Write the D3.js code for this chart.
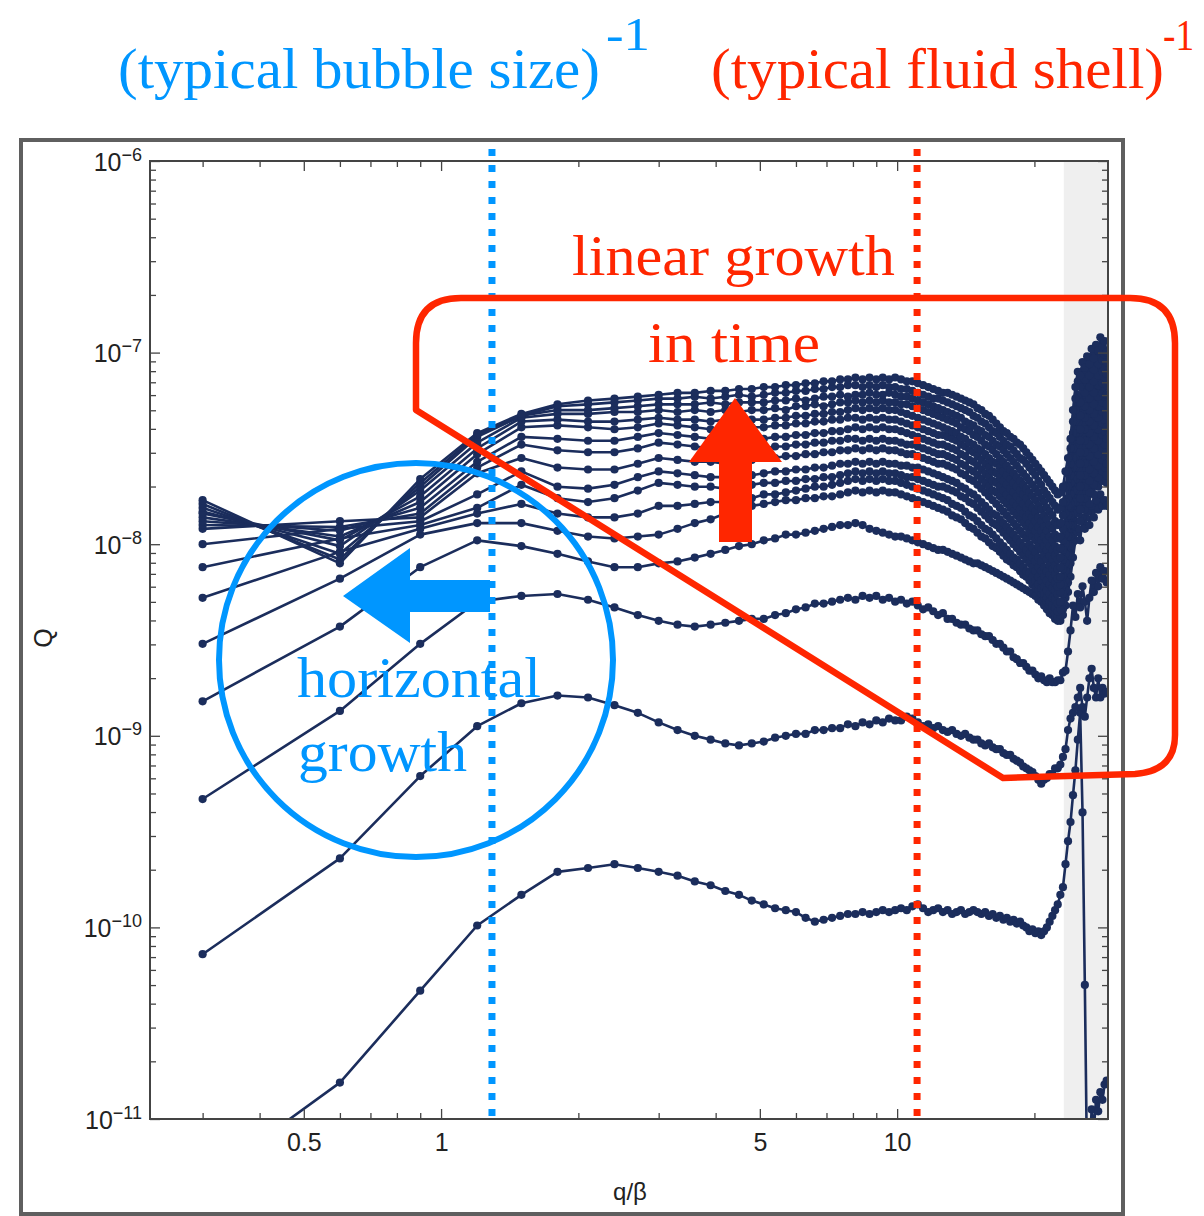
<!DOCTYPE html>
<html>
<head>
<meta charset="utf-8">
<script src="https://cdn.jsdelivr.net/npm/d3@7"></script>
<style>
body { margin: 0; background: #fff; }
</style>
</head>
<body>
<script>
// q/beta grid of the spectrum (step 0.3)
const q = d3.range(1, 97).map(i => +(0.3 * i).toFixed(1));

// log10(Q) per snapshot, earliest (lowest) first
const t01 = [-11.33,-10.81,-10.33,-9.99,-9.83,-9.71,-9.69,-9.67,-9.69,-9.71,-9.73,-9.76,
  -9.78,-9.81,-9.83,-9.86,-9.88,-9.90,-9.91,-9.92,-9.95,-9.97,-9.96,-9.95,
  -9.94,-9.93,-9.93,-9.92,-9.93,-9.92,-9.91,-9.92,-9.91,-9.90,-9.91,-9.89,
  -9.88,-9.90,-9.92,-9.91,-9.90,-9.92,-9.91,-9.93,-9.92,-9.91,-9.93,-9.92,
  -9.91,-9.92,-9.93,-9.92,-9.94,-9.93,-9.95,-9.94,-9.96,-9.95,-9.97,-9.96,
  -9.98,-9.97,-9.99,-10.00,-10.02,-10.01,-10.03,-10.02,-10.04,-10.02,-10.00,-9.97,
  -9.94,-9.91,-9.88,-9.83,-9.79,-9.67,-9.55,-9.45,-9.31,-9.18,-9.02,-8.88,
  -9.40,-10.30,-11.30,-11.20,-10.95,-11.05,-10.90,-10.96,-10.86,-10.90,-10.82,-10.80];
const t02 = [-10.14,-9.64,-9.21,-8.95,-8.83,-8.79,-8.80,-8.84,-8.88,-8.93,-8.97,-9.00,
  -9.02,-9.04,-9.05,-9.04,-9.03,-9.01,-9.00,-8.99,-8.99,-8.97,-8.97,-8.96,
  -8.96,-8.94,-8.95,-8.93,-8.94,-8.92,-8.93,-8.91,-8.92,-8.92,-8.90,-8.91,
  -8.93,-8.95,-8.94,-8.96,-8.95,-8.97,-8.98,-8.97,-8.99,-9.00,-8.99,-9.01,
  -9.02,-9.02,-9.04,-9.05,-9.04,-9.06,-9.07,-9.07,-9.09,-9.10,-9.10,-9.12,
  -9.13,-9.14,-9.16,-9.17,-9.18,-9.19,-9.21,-9.23,-9.25,-9.23,-9.22,-9.20,
  -9.20,-9.17,-9.17,-9.15,-9.11,-9.07,-8.97,-8.91,-8.88,-8.85,-8.80,-8.75,
  -8.85,-8.90,-8.80,-8.70,-8.65,-8.75,-8.80,-8.70,-8.80,-8.75,-8.78,-8.77];
const t03 = [-9.33,-8.87,-8.52,-8.30,-8.27,-8.26,-8.29,-8.33,-8.37,-8.40,-8.42,-8.43,
  -8.42,-8.41,-8.40,-8.39,-8.39,-8.37,-8.36,-8.34,-8.33,-8.31,-8.31,-8.30,
  -8.29,-8.28,-8.29,-8.27,-8.28,-8.27,-8.29,-8.28,-8.30,-8.29,-8.31,-8.30,
  -8.32,-8.34,-8.33,-8.35,-8.37,-8.36,-8.39,-8.39,-8.41,-8.42,-8.42,-8.44,
  -8.45,-8.45,-8.47,-8.48,-8.48,-8.50,-8.52,-8.52,-8.54,-8.56,-8.56,-8.59,
  -8.60,-8.62,-8.62,-8.64,-8.66,-8.66,-8.68,-8.70,-8.69,-8.71,-8.72,-8.70,
  -8.72,-8.72,-8.71,-8.71,-8.67,-8.66,-8.56,-8.45,-8.32,-8.38,-8.26,-8.33,
  -8.22,-8.30,-8.40,-8.28,-8.19,-8.25,-8.15,-8.22,-8.12,-8.18,-8.14,-8.20];
const t04 = [-8.82,-8.43,-8.12,-7.98,-8.01,-8.05,-8.09,-8.12,-8.12,-8.10,-8.09,-8.07,
  -8.05,-8.03,-8.01,-8.00,-7.98,-7.97,-7.95,-7.95,-7.94,-7.93,-7.92,-7.91,
  -7.90,-7.90,-7.89,-7.90,-7.92,-7.93,-7.94,-7.95,-7.96,-7.96,-7.97,-7.98,
  -7.99,-8.00,-8.01,-8.02,-8.03,-8.03,-8.04,-8.05,-8.06,-8.07,-8.08,-8.09,
  -8.10,-8.10,-8.11,-8.12,-8.13,-8.14,-8.15,-8.16,-8.17,-8.18,-8.19,-8.20,
  -8.21,-8.22,-8.23,-8.24,-8.25,-8.26,-8.27,-8.29,-8.30,-8.32,-8.34,-8.36,
  -8.37,-8.39,-8.40,-8.40,-8.37,-8.32,-8.25,-8.17,-8.07,-7.98,-7.92,-7.98,
  -7.86,-7.92,-7.83,-7.90,-7.80,-7.86,-7.77,-7.82,-7.74,-7.80,-7.77,-7.80];
const t05 = [-8.52,-8.18,-7.95,-7.89,-7.89,-7.93,-7.96,-7.97,-7.96,-7.95,-7.92,-7.89,
  -7.87,-7.84,-7.82,-7.80,-7.79,-7.78,-7.77,-7.77,-7.76,-7.76,-7.75,-7.75,
  -7.74,-7.73,-7.72,-7.73,-7.72,-7.73,-7.72,-7.73,-7.73,-7.74,-7.75,-7.76,
  -7.77,-7.78,-7.79,-7.80,-7.81,-7.82,-7.83,-7.85,-7.86,-7.87,-7.89,-7.91,
  -7.92,-7.94,-7.96,-7.97,-7.99,-8.01,-8.02,-8.04,-8.06,-8.08,-8.09,-8.11,
  -8.12,-8.14,-8.16,-8.17,-8.19,-8.21,-8.23,-8.24,-8.26,-8.28,-8.30,-8.32,
  -8.34,-8.36,-8.38,-8.37,-8.34,-8.28,-8.20,-8.10,-7.99,-7.88,-7.82,-7.88,
  -7.76,-7.82,-7.72,-7.79,-7.68,-7.74,-7.65,-7.70,-7.62,-7.67,-7.65,-7.68];
const t06 = [-8.28,-8.04,-7.92,-7.84,-7.79,-7.84,-7.86,-7.86,-7.84,-7.80,-7.80,-7.79,
  -7.78,-7.78,-7.77,-7.76,-7.74,-7.74,-7.73,-7.72,-7.71,-7.70,-7.70,-7.69,
  -7.68,-7.67,-7.66,-7.67,-7.66,-7.67,-7.66,-7.67,-7.67,-7.68,-7.69,-7.70,
  -7.71,-7.72,-7.73,-7.74,-7.75,-7.76,-7.77,-7.79,-7.80,-7.81,-7.83,-7.85,
  -7.86,-7.88,-7.90,-7.92,-7.93,-7.95,-7.97,-7.99,-8.01,-8.03,-8.05,-8.07,
  -8.08,-8.10,-8.12,-8.14,-8.15,-8.17,-8.19,-8.21,-8.23,-8.26,-8.28,-8.30,
  -8.32,-8.33,-8.35,-8.34,-8.30,-8.24,-8.16,-8.06,-7.95,-7.84,-7.76,-7.82,
  -7.70,-7.76,-7.67,-7.73,-7.63,-7.69,-7.60,-7.65,-7.58,-7.62,-7.60,-7.64];
const t07 = [-8.12,-7.97,-7.90,-7.81,-7.69,-7.76,-7.78,-7.76,-7.72,-7.68,-7.69,-7.70,
  -7.70,-7.71,-7.70,-7.69,-7.68,-7.68,-7.67,-7.67,-7.66,-7.66,-7.65,-7.65,
  -7.64,-7.63,-7.62,-7.63,-7.62,-7.63,-7.62,-7.63,-7.63,-7.64,-7.65,-7.65,
  -7.66,-7.67,-7.68,-7.69,-7.70,-7.70,-7.71,-7.72,-7.73,-7.75,-7.76,-7.78,
  -7.79,-7.81,-7.83,-7.85,-7.87,-7.89,-7.90,-7.92,-7.94,-7.96,-7.98,-8.00,
  -8.02,-8.04,-8.06,-8.08,-8.10,-8.12,-8.14,-8.17,-8.19,-8.22,-8.24,-8.26,
  -8.28,-8.29,-8.31,-8.30,-8.26,-8.19,-8.11,-8.01,-7.90,-7.78,-7.70,-7.76,
  -7.64,-7.70,-7.61,-7.67,-7.57,-7.63,-7.54,-7.59,-7.51,-7.56,-7.54,-7.58];
const t08 = [-8.00,-7.92,-7.88,-7.74,-7.62,-7.70,-7.71,-7.69,-7.65,-7.62,-7.63,-7.64,
  -7.65,-7.65,-7.64,-7.64,-7.63,-7.62,-7.62,-7.61,-7.61,-7.60,-7.60,-7.59,
  -7.58,-7.58,-7.57,-7.58,-7.57,-7.58,-7.57,-7.58,-7.58,-7.59,-7.59,-7.60,
  -7.60,-7.61,-7.62,-7.63,-7.64,-7.65,-7.66,-7.67,-7.68,-7.70,-7.71,-7.73,
  -7.74,-7.76,-7.78,-7.80,-7.82,-7.84,-7.85,-7.87,-7.89,-7.91,-7.93,-7.95,
  -7.97,-7.99,-8.01,-8.03,-8.05,-8.07,-8.09,-8.12,-8.14,-8.17,-8.19,-8.21,
  -8.23,-8.24,-8.26,-8.25,-8.21,-8.14,-8.06,-7.96,-7.84,-7.72,-7.64,-7.70,
  -7.58,-7.64,-7.55,-7.61,-7.51,-7.57,-7.48,-7.53,-7.45,-7.50,-7.48,-7.52];
const t09 = [-7.92,-7.88,-7.86,-7.63,-7.55,-7.60,-7.61,-7.61,-7.58,-7.55,-7.56,-7.57,
  -7.57,-7.58,-7.57,-7.56,-7.55,-7.55,-7.54,-7.54,-7.53,-7.53,-7.52,-7.52,
  -7.51,-7.51,-7.50,-7.51,-7.50,-7.51,-7.50,-7.51,-7.51,-7.52,-7.53,-7.53,
  -7.54,-7.55,-7.56,-7.57,-7.58,-7.58,-7.59,-7.60,-7.61,-7.63,-7.64,-7.66,
  -7.67,-7.69,-7.71,-7.73,-7.75,-7.77,-7.79,-7.81,-7.83,-7.85,-7.87,-7.89,
  -7.91,-7.93,-7.95,-7.97,-8.00,-8.02,-8.04,-8.07,-8.09,-8.12,-8.14,-8.16,
  -8.18,-8.20,-8.22,-8.21,-8.17,-8.10,-8.01,-7.90,-7.78,-7.66,-7.58,-7.64,
  -7.52,-7.58,-7.48,-7.54,-7.44,-7.50,-7.40,-7.46,-7.38,-7.43,-7.41,-7.45];
const t10 = [-7.90,-7.91,-7.84,-7.60,-7.48,-7.51,-7.52,-7.52,-7.50,-7.47,-7.48,-7.49,
  -7.50,-7.51,-7.51,-7.50,-7.50,-7.49,-7.49,-7.48,-7.48,-7.47,-7.47,-7.46,
  -7.46,-7.45,-7.45,-7.46,-7.45,-7.46,-7.45,-7.46,-7.46,-7.47,-7.48,-7.48,
  -7.49,-7.50,-7.51,-7.52,-7.53,-7.53,-7.54,-7.55,-7.56,-7.58,-7.59,-7.61,
  -7.62,-7.64,-7.66,-7.68,-7.70,-7.72,-7.73,-7.75,-7.77,-7.79,-7.81,-7.83,
  -7.85,-7.87,-7.89,-7.91,-7.94,-7.96,-7.98,-8.01,-8.03,-8.06,-8.08,-8.11,
  -8.13,-8.16,-8.18,-8.17,-8.13,-8.05,-7.96,-7.85,-7.72,-7.60,-7.52,-7.58,
  -7.46,-7.52,-7.42,-7.48,-7.38,-7.44,-7.34,-7.40,-7.32,-7.37,-7.35,-7.39];
const t11 = [-7.88,-7.93,-7.81,-7.57,-7.44,-7.45,-7.46,-7.46,-7.44,-7.42,-7.43,-7.44,
  -7.45,-7.46,-7.46,-7.45,-7.45,-7.44,-7.44,-7.43,-7.43,-7.42,-7.42,-7.41,
  -7.41,-7.40,-7.39,-7.40,-7.39,-7.40,-7.39,-7.40,-7.40,-7.41,-7.42,-7.43,
  -7.44,-7.45,-7.46,-7.47,-7.48,-7.48,-7.49,-7.50,-7.51,-7.53,-7.54,-7.56,
  -7.57,-7.59,-7.61,-7.63,-7.65,-7.67,-7.68,-7.70,-7.72,-7.74,-7.76,-7.78,
  -7.80,-7.82,-7.84,-7.86,-7.89,-7.91,-7.93,-7.96,-7.98,-8.01,-8.03,-8.06,
  -8.08,-8.11,-8.13,-8.12,-8.08,-8.00,-7.90,-7.79,-7.66,-7.54,-7.46,-7.52,
  -7.40,-7.46,-7.36,-7.42,-7.32,-7.38,-7.28,-7.34,-7.26,-7.31,-7.29,-7.33];
const t12 = [-7.86,-7.96,-7.78,-7.53,-7.39,-7.38,-7.39,-7.40,-7.39,-7.37,-7.38,-7.39,
  -7.40,-7.39,-7.40,-7.39,-7.39,-7.38,-7.38,-7.37,-7.37,-7.36,-7.36,-7.35,
  -7.35,-7.34,-7.34,-7.35,-7.34,-7.35,-7.34,-7.35,-7.35,-7.36,-7.37,-7.38,
  -7.39,-7.40,-7.41,-7.42,-7.43,-7.43,-7.44,-7.45,-7.46,-7.48,-7.49,-7.51,
  -7.52,-7.54,-7.56,-7.58,-7.60,-7.62,-7.63,-7.65,-7.67,-7.69,-7.71,-7.73,
  -7.75,-7.77,-7.79,-7.81,-7.84,-7.86,-7.88,-7.91,-7.93,-7.96,-7.98,-8.01,
  -8.03,-8.06,-8.08,-8.07,-8.03,-7.95,-7.85,-7.74,-7.60,-7.48,-7.40,-7.46,
  -7.34,-7.40,-7.30,-7.36,-7.26,-7.32,-7.22,-7.28,-7.20,-7.26,-7.23,-7.27];
const t13 = [-7.84,-7.98,-7.75,-7.50,-7.36,-7.35,-7.36,-7.36,-7.35,-7.34,-7.35,-7.35,
  -7.36,-7.35,-7.36,-7.35,-7.35,-7.34,-7.34,-7.33,-7.33,-7.32,-7.32,-7.31,
  -7.31,-7.30,-7.29,-7.30,-7.29,-7.30,-7.29,-7.30,-7.30,-7.31,-7.32,-7.33,
  -7.34,-7.35,-7.36,-7.37,-7.38,-7.39,-7.40,-7.41,-7.42,-7.44,-7.45,-7.47,
  -7.48,-7.50,-7.51,-7.53,-7.55,-7.57,-7.58,-7.60,-7.62,-7.64,-7.66,-7.68,
  -7.70,-7.72,-7.74,-7.76,-7.79,-7.81,-7.83,-7.86,-7.88,-7.91,-7.93,-7.96,
  -7.98,-8.01,-8.03,-8.02,-7.98,-7.90,-7.80,-7.68,-7.55,-7.42,-7.34,-7.40,
  -7.28,-7.34,-7.24,-7.30,-7.20,-7.27,-7.17,-7.23,-7.15,-7.21,-7.18,-7.22];
const t14 = [-7.83,-8.01,-7.72,-7.47,-7.34,-7.32,-7.32,-7.31,-7.31,-7.30,-7.31,-7.30,
  -7.31,-7.30,-7.31,-7.30,-7.30,-7.29,-7.30,-7.28,-7.28,-7.27,-7.28,-7.27,
  -7.26,-7.26,-7.25,-7.26,-7.25,-7.26,-7.25,-7.26,-7.26,-7.27,-7.27,-7.28,
  -7.29,-7.30,-7.31,-7.32,-7.33,-7.34,-7.35,-7.36,-7.37,-7.39,-7.40,-7.41,
  -7.43,-7.44,-7.46,-7.48,-7.49,-7.51,-7.53,-7.55,-7.57,-7.59,-7.61,-7.63,
  -7.65,-7.67,-7.69,-7.71,-7.73,-7.75,-7.77,-7.80,-7.82,-7.85,-7.87,-7.90,
  -7.92,-7.95,-7.97,-7.96,-7.92,-7.84,-7.76,-7.64,-7.50,-7.36,-7.28,-7.33,
  -7.22,-7.28,-7.18,-7.24,-7.15,-7.21,-7.12,-7.17,-7.10,-7.16,-7.13,-7.17];
const t15 = [-7.81,-8.05,-7.70,-7.44,-7.33,-7.30,-7.30,-7.29,-7.28,-7.27,-7.27,-7.27,
  -7.26,-7.27,-7.26,-7.26,-7.26,-7.25,-7.25,-7.24,-7.25,-7.24,-7.23,-7.23,
  -7.22,-7.23,-7.22,-7.22,-7.21,-7.22,-7.22,-7.21,-7.22,-7.23,-7.23,-7.24,
  -7.25,-7.26,-7.27,-7.28,-7.29,-7.30,-7.31,-7.32,-7.33,-7.34,-7.36,-7.37,
  -7.38,-7.40,-7.41,-7.43,-7.44,-7.46,-7.48,-7.49,-7.51,-7.53,-7.55,-7.57,
  -7.59,-7.61,-7.63,-7.65,-7.67,-7.69,-7.71,-7.73,-7.76,-7.78,-7.81,-7.83,
  -7.85,-7.88,-7.90,-7.89,-7.85,-7.78,-7.70,-7.58,-7.42,-7.30,-7.22,-7.26,
  -7.16,-7.21,-7.13,-7.18,-7.10,-7.15,-7.07,-7.12,-7.05,-7.10,-7.08,-7.11];
const t16 = [-7.79,-8.08,-7.68,-7.43,-7.33,-7.28,-7.27,-7.26,-7.25,-7.24,-7.24,-7.23,
  -7.24,-7.23,-7.22,-7.23,-7.22,-7.21,-7.21,-7.20,-7.20,-7.19,-7.19,-7.18,
  -7.18,-7.17,-7.17,-7.18,-7.17,-7.18,-7.17,-7.18,-7.18,-7.19,-7.19,-7.20,
  -7.21,-7.22,-7.23,-7.24,-7.24,-7.25,-7.26,-7.27,-7.28,-7.29,-7.30,-7.31,
  -7.33,-7.34,-7.36,-7.37,-7.39,-7.41,-7.42,-7.44,-7.46,-7.48,-7.49,-7.51,
  -7.53,-7.55,-7.56,-7.58,-7.60,-7.62,-7.64,-7.67,-7.69,-7.72,-7.74,-7.76,
  -7.78,-7.80,-7.82,-7.81,-7.78,-7.70,-7.62,-7.50,-7.36,-7.24,-7.15,-7.18,
  -7.10,-7.14,-7.07,-7.12,-7.04,-7.09,-7.02,-7.06,-6.99,-7.04,-7.01,-7.05];
const t17 = [-7.77,-8.10,-7.66,-7.42,-7.32,-7.27,-7.25,-7.24,-7.23,-7.22,-7.21,-7.21,
  -7.20,-7.20,-7.19,-7.19,-7.18,-7.18,-7.17,-7.17,-7.16,-7.16,-7.15,-7.15,
  -7.14,-7.14,-7.13,-7.14,-7.13,-7.14,-7.13,-7.14,-7.13,-7.14,-7.15,-7.15,
  -7.16,-7.17,-7.18,-7.19,-7.20,-7.21,-7.21,-7.22,-7.23,-7.24,-7.25,-7.26,
  -7.27,-7.29,-7.30,-7.32,-7.33,-7.35,-7.37,-7.39,-7.41,-7.42,-7.44,-7.45,
  -7.47,-7.48,-7.50,-7.52,-7.54,-7.56,-7.58,-7.60,-7.62,-7.64,-7.66,-7.68,
  -7.70,-7.72,-7.74,-7.73,-7.70,-7.62,-7.55,-7.45,-7.30,-7.18,-7.10,-7.12,
  -7.05,-7.08,-7.02,-7.06,-6.98,-7.03,-6.96,-6.99,-6.92,-6.97,-6.94,-7.00];

const snapshots = [t01,t02,t03,t04,t05,t06,t07,t08,t09,t10,t11,t12,t13,t14,t15,t16,t17];

// axes
const xMajorTicks = [0.5, 1, 5, 10];
const xMinorTicks = [0.3, 0.4, 0.6, 0.7, 0.8, 0.9, 2, 3, 4, 6, 7, 8, 9, 20];
const yExponents = [-11, -10, -9, -8, -7, -6];

// reference scales and shaded cut-off
const bubbleScale = 1.293;   // (typical bubble size)^-1
const shellScale = 11.06;    // (typical fluid shell)^-1
const cutoffStart = 23.2;

const W = 1204, H = 1216;
const navy = "#1b2d5c", blue = "#0096ff", red = "#ff2600";
const pL = 150, pR = 1108, pT = 161, pB = 1119;

const svg = d3.select("body").append("svg")
    .attr("width", W).attr("height", H)
    .style("font-family", "'Liberation Sans', Arial, sans-serif");

const x = d3.scaleLog().domain([0.23, 29]).range([pL, pR]);
const y = d3.scaleLog().domain([1e-11, 1e-6]).range([pB, pT]);

svg.append("defs").append("clipPath").attr("id", "plotclip")
  .append("rect").attr("x", pL).attr("y", pT)
  .attr("width", pR - pL).attr("height", pB - pT);

// outer border
svg.append("rect")
    .attr("x", 21).attr("y", 140)
    .attr("width", 1102).attr("height", 1074)
    .attr("fill", "none").attr("stroke", "#5f5f5f").attr("stroke-width", 4);

// shaded region beyond cut-off
svg.append("rect")
    .attr("x", x(cutoffStart)).attr("y", pT)
    .attr("width", pR - x(cutoffStart)).attr("height", pB - pT)
    .attr("fill", "#efefef");

// spectra
const plot = svg.append("g").attr("clip-path", "url(#plotclip)");
const line = d3.line().x(d => x(d.q)).y(d => y(d.Q));

snapshots.forEach(s => {
  const pts = s.map((v, i) => ({ q: q[i], Q: Math.pow(10, v) }));
  plot.append("path")
      .datum(pts)
      .attr("d", line)
      .attr("fill", "none")
      .attr("stroke", navy)
      .attr("stroke-width", 2.6)
      .attr("stroke-linejoin", "round");
  plot.selectAll(null)
      .data(pts)
      .enter().append("circle")
      .attr("cx", d => x(d.q))
      .attr("cy", d => y(d.Q))
      .attr("r", 4.1)
      .attr("fill", navy);
});

// frame axes with inward ticks
const axisColor = "#444";
function styleAxis(g) {
  g.select(".domain").remove();
  g.selectAll(".tick line").attr("stroke", axisColor).attr("stroke-width", 1.3);
  g.selectAll("text").attr("fill", "#222").attr("font-size", 25)
      .attr("font-family", "'Liberation Sans', Arial, sans-serif");
}
function yMinor() {
  const v = [];
  yExponents.slice(0, -1).forEach(e => { for (let m = 2; m <= 9; m++) v.push(m * Math.pow(10, e)); });
  return v;
}
const yMajorVals = yExponents.map(e => Math.pow(10, e));

svg.append("g").attr("transform", `translate(0,${pB})`)
    .call(d3.axisBottom(x).tickValues(xMajorTicks).tickSize(-10).tickPadding(14)
      .tickFormat(d => String(d)))
    .call(styleAxis);
svg.append("g").attr("transform", `translate(0,${pB})`)
    .call(d3.axisBottom(x).tickValues(xMinorTicks).tickSize(-6).tickFormat(""))
    .call(styleAxis);
svg.append("g").attr("transform", `translate(0,${pT})`)
    .call(d3.axisTop(x).tickValues(xMajorTicks).tickSize(-10).tickFormat(""))
    .call(styleAxis);
svg.append("g").attr("transform", `translate(0,${pT})`)
    .call(d3.axisTop(x).tickValues(xMinorTicks).tickSize(-6).tickFormat(""))
    .call(styleAxis);

const yAxisG = svg.append("g").attr("transform", `translate(${pL},0)`)
    .call(d3.axisLeft(y).tickValues(yMajorVals).tickSize(-10).tickPadding(8)
      .tickFormat(() => "10"))
    .call(styleAxis);
yAxisG.selectAll("text")
    .attr("dy", "9")
  .append("tspan")
    .attr("dy", "-10")
    .attr("font-size", 18)
    .text(d => "\u2212" + Math.round(-Math.log10(d)));
svg.append("g").attr("transform", `translate(${pL},0)`)
    .call(d3.axisLeft(y).tickValues(yMinor()).tickSize(-6).tickFormat(""))
    .call(styleAxis);
svg.append("g").attr("transform", `translate(${pR},0)`)
    .call(d3.axisRight(y).tickValues(yMajorVals).tickSize(-10).tickFormat(""))
    .call(styleAxis);
svg.append("g").attr("transform", `translate(${pR},0)`)
    .call(d3.axisRight(y).tickValues(yMinor()).tickSize(-6).tickFormat(""))
    .call(styleAxis);

svg.append("rect")
    .attr("x", pL).attr("y", pT)
    .attr("width", pR - pL).attr("height", pB - pT)
    .attr("fill", "none").attr("stroke", axisColor).attr("stroke-width", 2);

// axis titles
svg.append("text")
    .attr("transform", `translate(52,638) rotate(-90)`)
    .attr("text-anchor", "middle")
    .attr("font-size", 25).attr("fill", "#222")
    .text("Q");
svg.append("text")
    .attr("x", 630).attr("y", 1200)
    .attr("text-anchor", "middle")
    .attr("font-size", 24).attr("fill", "#222")
    .text("q/\u03b2");

// dotted reference lines
[[bubbleScale, blue], [shellScale, red]].forEach(([v, c]) => {
  svg.append("line")
      .attr("x1", x(v)).attr("x2", x(v))
      .attr("y1", 149).attr("y2", pB)
      .attr("stroke", c).attr("stroke-width", 7)
      .attr("stroke-dasharray", "7,9");
});

// annotations
const serif = "'Liberation Serif', 'Times New Roman', serif";

svg.append("circle")
    .attr("cx", 416).attr("cy", 660).attr("r", 197)
    .attr("fill", "none").attr("stroke", blue).attr("stroke-width", 6);

svg.append("path")
    .attr("d", "M343,596 L410,548 L410,580 L490,580 L490,612 L410,612 L410,643 Z")
    .attr("fill", blue);

svg.append("path")
    .attr("d", "M416,410 L416,343 Q416,298 461,298 L1130,298 Q1175,298 1175,343 L1175,735 Q1175,771 1135,774 L1003,778 Z")
    .attr("fill", "none").attr("stroke", red).attr("stroke-width", 6.5)
    .attr("stroke-linejoin", "round");

svg.append("path")
    .attr("d", "M735,398 L782,462 L752,462 L752,542 L719,542 L719,462 L689,462 Z")
    .attr("fill", red);

function label(txt, xx, yy, w, col, size) {
  svg.append("text")
      .attr("x", xx).attr("y", yy)
      .attr("font-family", serif).attr("font-size", size)
      .attr("fill", col)
      .attr("textLength", w).attr("lengthAdjust", "spacingAndGlyphs")
      .text(txt);
}
label("horizontal", 297, 697, 244, blue, 58);
label("growth", 298, 771, 169, blue, 58);
label("linear growth", 572, 275, 323, red, 58);
label("in time", 648, 362, 172, red, 58);

// titles
label("(typical bubble size)", 118, 88, 482, blue, 58);
label("-1", 606, 50, 44, blue, 46);
label("(typical fluid shell)", 711, 88, 453, red, 58);
label("-1", 1163, 50, 31, red, 44);
</script>
</body>
</html>
